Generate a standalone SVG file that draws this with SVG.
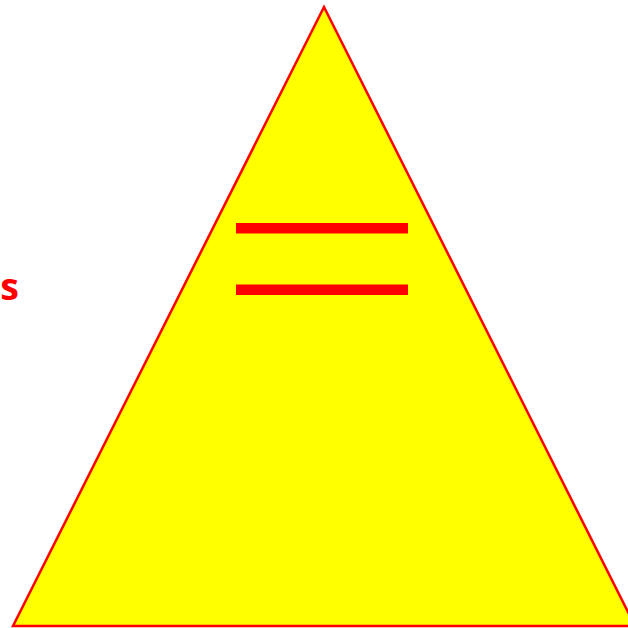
<svg xmlns="http://www.w3.org/2000/svg" width="628" height="628" viewBox="0 0 628 628">
<style>
.tri{fill:#ffff00;stroke:#ff0000;stroke-width:2.5;stroke-linejoin:miter}
.bar{fill:#ff0000}
.lbl{fill:#ff0000;font-family:"Open Sans","Noto Sans",sans-serif;font-weight:bold;font-size:37.5px}
</style>
<rect width="628" height="628" fill="#ffffff"/>
<g id="triangle">
<polygon class="tri" points="324,7 13,626 635,626"/>
</g>
<g id="bars">
<rect class="bar" x="236" y="223" width="172" height="10.5"/>
<rect class="bar" x="236" y="284.5" width="172" height="10.5"/>
</g>
<g id="label">
<text class="lbl" x="19" y="299.5" text-anchor="end">s</text>
</g>
</svg>
